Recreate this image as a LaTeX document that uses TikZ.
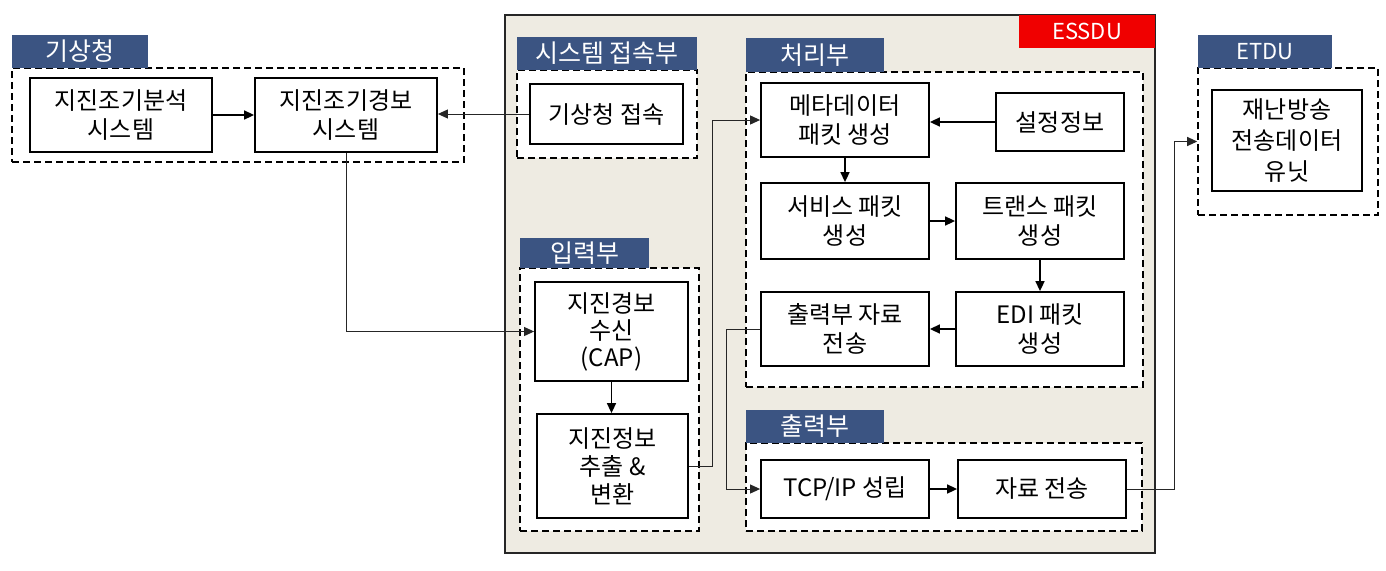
\documentclass[tikz,border=0pt]{standalone}
\usepackage{fontspec}
\setmainfont{Noto Sans CJK KR}
\usetikzlibrary{arrows.meta}
\definecolor{tabblue}{RGB}{59,84,130}
\definecolor{beige}{RGB}{238,235,226}
\definecolor{redtab}{RGB}{240,0,0}
\begin{document}
\begin{tikzpicture}[x=1pt,y=-1pt,
  box/.style={draw=black, line width=1.8pt, fill=white, align=center, inner sep=0pt, font=\fontsize{24}{29}\selectfont},
  grp/.style={draw=black, line width=1.6pt, dash pattern=on 7pt off 4pt, fill=white, inner sep=0pt},
  tabnode/.style={fill=tabblue, text=white, inner sep=0pt, font=\fontsize{25}{28}\selectfont},
  arr/.style={-{Triangle[length=10pt,width=9pt]}, line width=1.6pt},
  link/.style={-{Triangle[length=10pt,width=9pt]}, line width=1pt, draw=black!85}]
\useasboundingbox (0,0) rectangle (1386,570);
% outer containers
\node[draw=black!85, line width=2pt, fill=beige, minimum width=650, minimum height=538, inner sep=0pt] (essdu) at (830,284) {};
\node[fill=redtab, text=white, inner sep=0pt, minimum width=136, minimum height=33, font=\fontsize{22}{24}\selectfont] (essdut) at (1087,31.5) {ESSDU};
\node[grp, minimum width=452, minimum height=94] (kmag) at (238,115) {};
\node[grp, minimum width=180, minimum height=88] (sysg) at (607,114) {};
\node[grp, minimum width=397, minimum height=315] (procg) at (944.5,229.5) {};
\node[grp, minimum width=179, minimum height=263] (inpg) at (609.5,399.5) {};
\node[grp, minimum width=396, minimum height=88] (outg) at (944,487) {};
\node[grp, minimum width=180, minimum height=147] (etdug) at (1288,141.5) {};
% tabs
\node[tabnode, minimum width=136, minimum height=33] (kmat) at (80,51.5) {기상청};
\node[tabnode, minimum width=180, minimum height=33] (syst) at (607,53.5) {시스템 접속부};
\node[tabnode, minimum width=138, minimum height=34] (proct) at (815,55) {처리부};
\node[tabnode, minimum width=129, minimum height=30] (inpt) at (584.5,253) {입력부};
\node[tabnode, minimum width=138, minimum height=33] (outt) at (815,426.5) {출력부};
\node[tabnode, minimum width=134, minimum height=33, font=\fontsize{22}{24}\selectfont] (etdut) at (1265,51.5) {ETDU};
% boxes
\node[box, minimum width=182, minimum height=74] (ana) at (121,115) {지진조기분석\\시스템};
\node[box, minimum width=182, minimum height=74] (warn) at (346,115) {지진조기경보\\시스템};
\node[box, minimum width=153, minimum height=60] (kma) at (606.5,114) {기상청 접속};
\node[box, minimum width=168, minimum height=74] (meta) at (845,120) {메타데이터\\패킷 생성};
\node[box, minimum width=128, minimum height=58] (conf) at (1060,122) {설정정보};
\node[box, minimum width=168, minimum height=76] (svc) at (845,221) {서비스 패킷\\생성};
\node[box, minimum width=168, minimum height=76] (trans) at (1040,221) {트랜스 패킷\\생성};
\node[box, minimum width=168, minimum height=74] (outd) at (845,329) {출력부 자료\\전송};
\node[box, minimum width=168, minimum height=74] (edi) at (1040,329) {EDI 패킷\\생성};
\node[box, minimum width=153, minimum height=99, font=\fontsize{24}{27}\selectfont] (recv) at (611.5,331.5) {지진경보\\수신\\(CAP)};
\node[box, minimum width=151, minimum height=104, font=\fontsize{24}{28}\selectfont] (extr) at (612.5,466) {지진정보\\추출 \&\\변환};
\node[box, minimum width=168, minimum height=58] (tcp) at (845,489) {TCP/IP 성립};
\node[box, minimum width=168, minimum height=58] (send) at (1042,489) {자료 전송};
\node[box, minimum width=150, minimum height=101, font=\fontsize{24}{31}\selectfont] (etdu) at (1287,140.5) {재난방송\\전송데이터\\유닛};
% connectors
\draw[arr] (ana.east) -- (warn.west);
\draw[link] (kma.west) -- (kma.west -| warn.east);
\draw[link] (warn.south) |- (recv.west);
\draw[arr] (recv.south) -- (recv.south |- extr.north);
\draw[link] (extr.east) -- ++(24,0) |- (meta.west);
\draw[arr] (conf.west) -- (conf.west -| meta.east);
\draw[arr] (meta.south) -- (svc.north);
\draw[arr] (svc.east) -- (trans.west);
\draw[arr] (trans.south) -- (edi.north);
\draw[arr] (edi.west) -- (outd.east);
\draw[link] (outd.west) -- ++(-34,0) |- (tcp.west);
\draw[arr] (tcp.east) -- (send.west);
\draw[link] (send.east) -- ++(48,0) |- (etdug.west);
\end{tikzpicture}
\end{document}
